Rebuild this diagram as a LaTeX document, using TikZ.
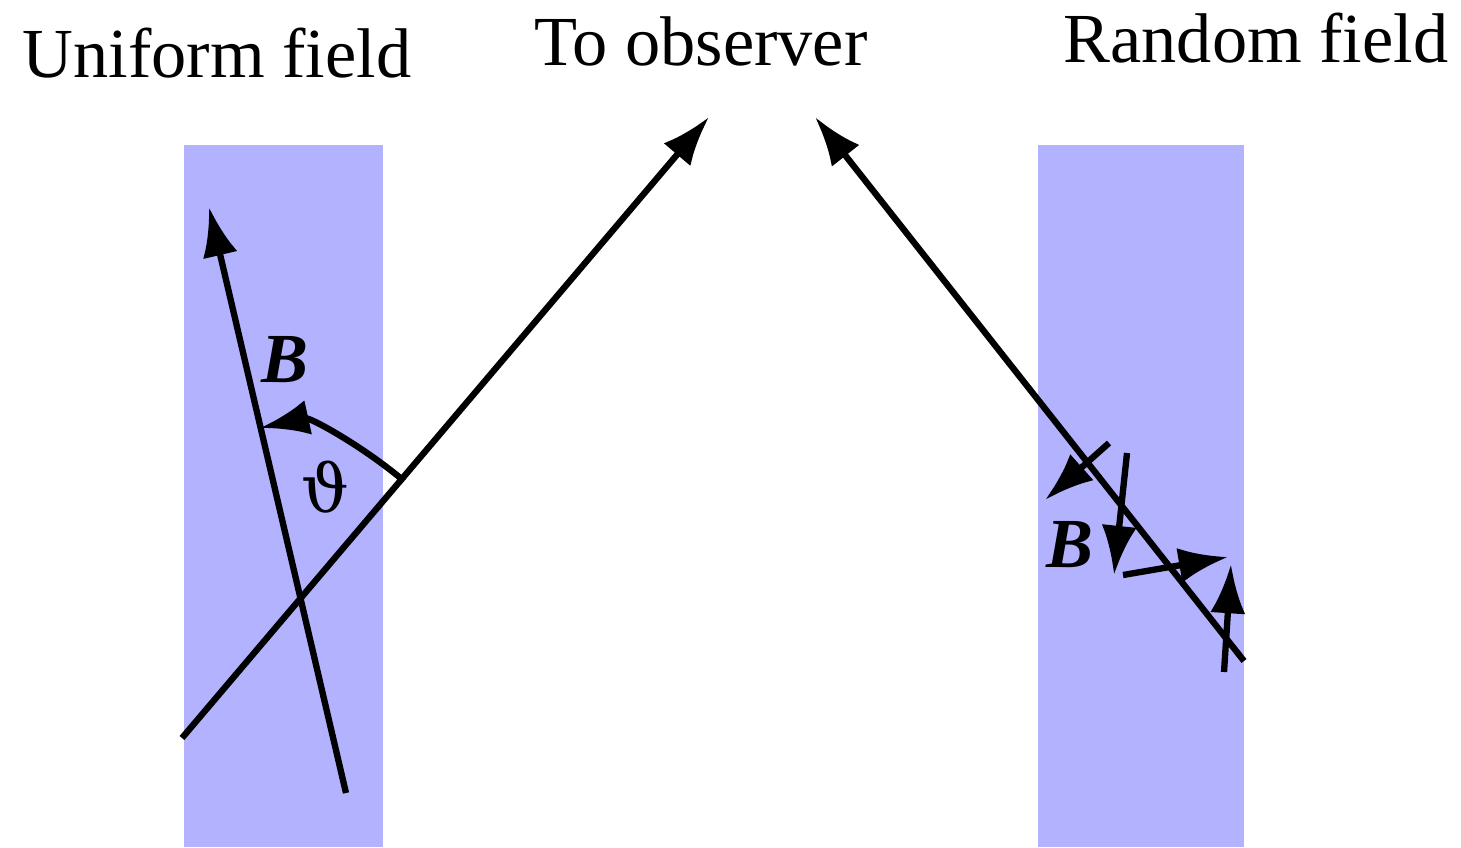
\documentclass[tikz,border=0pt]{standalone}
\usepackage{fontspec}
\setmainfont{Liberation Serif}
\newfontfamily\greekfont{DejaVu Serif}
\usepackage{tikz}
\usetikzlibrary{arrows.meta, positioning}

\begin{document}
\begin{tikzpicture}[
    x=0.01cm, y=0.01cm,
    slab/.style={fill=blue!30, draw=none},
    title/.style={font=\fontsize{20}{24}\selectfont, anchor=base, inner sep=0pt},
    field/.style={font=\fontsize{20}{24}\selectfont\bfseries\itshape, inner sep=0pt},
    vec/.style={line width=1.8pt, -{Latex[length=14pt, width=10pt]}},
]
\useasboundingbox (0,0) rectangle (1461,847);

% slabs
\fill[slab] (184,0) rectangle (383,702);
\fill[slab] (1038,0) rectangle (1244,702);

% titles
\node[title] (uniform) at (217,770) {Uniform field};
\node[title] (observer) at (701,782) {To observer};
\node[title] (random) at (1256,785) {Random field};

% uniform field
\coordinate (btail) at (346,54);
\coordinate (bhead) at (209,640);
\coordinate (rtail) at (182,109);
\coordinate (rhead) at (709,730);
\coordinate (arcstart) at (404,366);
\coordinate (arcend) at (260,419);
\draw[vec] (btail) -- (bhead);
\draw[vec] (rtail) -- (rhead);
\draw[vec] (arcstart) .. controls (364,400) and (310,430) .. (arcend);
\node[field] (bleft) at (285,487) {B};
\node[inner sep=0pt, font=\fontsize{19}{24}\selectfont\greekfont] (angle) at (325,360) {ϑ};

% random field
\coordinate (stail) at (1244,186);
\coordinate (shead) at (815,730);
\draw[vec] (stail) -- (shead);
\coordinate (a1) at (1109,404);  \coordinate (a1h) at (1045,347);
\coordinate (a2) at (1127,394);  \coordinate (a2h) at (1114,272);
\coordinate (a3) at (1123,272);  \coordinate (a3h) at (1228,290);
\coordinate (a4) at (1224,175);  \coordinate (a4h) at (1231,283);
\draw[vec] (a1) -- (a1h);
\draw[vec] (a2) -- (a2h);
\draw[vec] (a3) -- (a3h);
\draw[vec] (a4) -- (a4h);
\node[field] (bright) at (1070,302) {B};

\end{tikzpicture}
\end{document}
